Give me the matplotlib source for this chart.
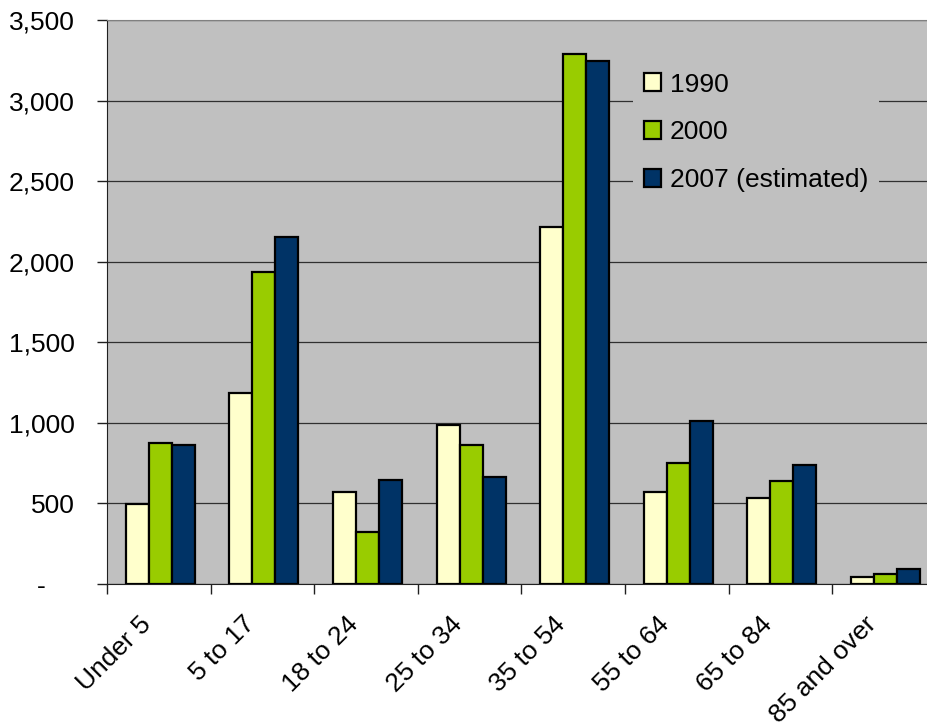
import matplotlib.pyplot as plt
import matplotlib.transforms as mtransforms
import numpy as np
from matplotlib.ticker import FuncFormatter

plt.rcParams['font.family'] = ['Liberation Sans', 'DejaVu Sans']

age_groups = ["Under 5", "5 to 17", "18 to 24", "25 to 34",
              "35 to 54", "55 to 64", "65 to 84", "85 and over"]
pop_1990 = [497, 1186, 570, 987, 2216, 568, 536, 45]
pop_2000 = [878, 1937, 323, 863, 3292, 753, 642, 62]
pop_2007 = [864, 2154, 645, 664, 3248, 1013, 740, 91]
series_names = ["1990", "2000", "2007 (estimated)"]
colors = ["#FFFFCC", "#99CC00", "#003366"]

fig = plt.figure(figsize=(9.28, 7.28), dpi=100)
ax = fig.add_axes([107 / 928, 1 - 584 / 728, 821 / 928, 564 / 728])
ax.set_facecolor("#C0C0C0")

x = np.arange(len(age_groups))
w = 0.222
for k, (vals, name, c) in enumerate(zip([pop_1990, pop_2000, pop_2007], series_names, colors)):
    ax.bar(x + (k - 1) * w + 0.015, vals, width=w, color=c, edgecolor="black",
           linewidth=1.6, label=name, zorder=3)

ax.set_ylim(0, 3500)
ax.set_xlim(-0.5, 7.425)
ax.set_yticks(np.arange(0, 3501, 500))
ax.yaxis.set_major_formatter(FuncFormatter(lambda v, p: "-    " if v == 0 else f"{int(v):,}"))
ax.grid(axis="y", color="#303030", linewidth=0.9, zorder=0)
ax.set_axisbelow(True)

# category boundaries get the tick marks, labels sit on the centres
ax.set_xticks(np.arange(-0.5, 7.5, 1.0))
ax.set_xticklabels([])
ax.set_xticks(x, minor=True)
ax.set_xticklabels(age_groups, minor=True, rotation=45, ha="right",
                   rotation_mode="anchor", fontsize=19)
ax.tick_params(axis="x", which="minor", length=0, pad=20)
shift = mtransforms.ScaledTranslation(-0.2, 0, fig.dpi_scale_trans)
for lbl in ax.get_xticklabels(minor=True):
    lbl.set_transform(lbl.get_transform() + shift)
ax.tick_params(axis="x", which="major", length=7, width=1, color="#202020", direction="out")
ax.tick_params(axis="y", length=7, width=1, color="#202020", labelsize=19, pad=16)

ax.spines["right"].set_visible(False)
ax.spines["top"].set_color("#808080")
ax.spines["left"].set_color("#202020")
ax.spines["bottom"].set_color("#202020")

leg = ax.legend(loc="upper left", bbox_to_anchor=(633 / 928, 1 - 62 / 728),
                bbox_transform=fig.transFigure, frameon=True, fontsize=19,
                handlelength=0.65, handleheight=0.65, handletextpad=0.35,
                labelspacing=0.9, borderpad=0.4, borderaxespad=0)
leg.get_frame().set_facecolor("#C0C0C0")
leg.get_frame().set_edgecolor("none")
leg.get_frame().set_alpha(1)
leg.get_frame().set_boxstyle("square", pad=0)
for h in leg.legend_handles:
    h.set_linewidth(1.6)

fig.savefig("out.png", dpi=100)
